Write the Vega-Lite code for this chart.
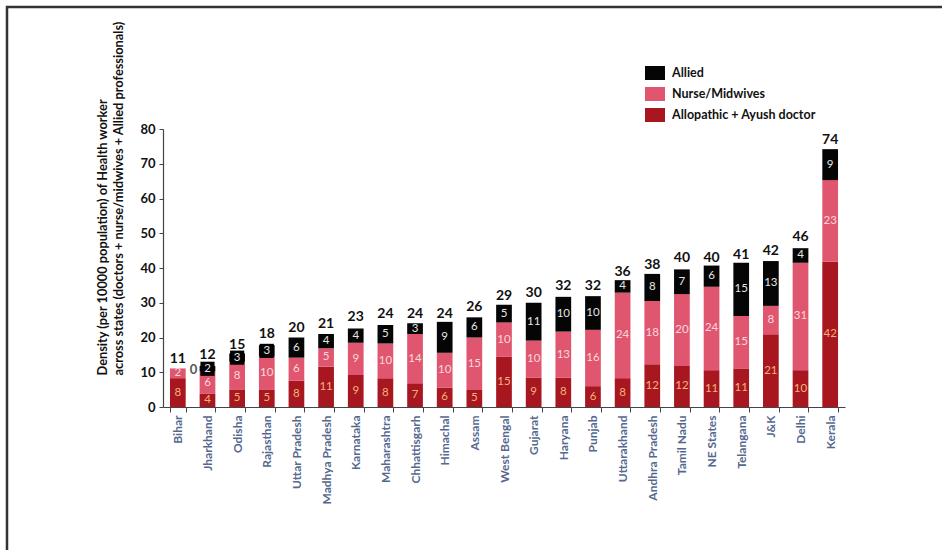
{
  "$schema": "https://vega.github.io/schema/vega-lite/v6.json",
  "width": 940,
  "height": 545,
  "autosize": "none",
  "padding": {"left": 7, "top": 7, "right": 0, "bottom": 0},
  "background": "white",
  "config": {
    "view": {"stroke": "#333333", "strokeWidth": 2.5},
    "font": "Lato"
  },
  "datasets": {
    "segs": [
      {"state": "Bihar", "type": "Allopathic + Ayush doctor", "ord": 1, "v": 8.3, "lab": "8"},
      {"state": "Bihar", "type": "Nurse/Midwives", "ord": 2, "v": 2.8, "lab": "2"},
      {"state": "Bihar", "type": "Allied", "ord": 3, "v": 0, "lab": ""},
      {"state": "Jharkhand", "type": "Allopathic + Ayush doctor", "ord": 1, "v": 3.9, "lab": "4"},
      {"state": "Jharkhand", "type": "Nurse/Midwives", "ord": 2, "v": 6.3, "lab": "6"},
      {"state": "Jharkhand", "type": "Allied", "ord": 3, "v": 1.6, "lab": "2"},
      {"state": "Odisha", "type": "Allopathic + Ayush doctor", "ord": 1, "v": 4.9, "lab": "5"},
      {"state": "Odisha", "type": "Nurse/Midwives", "ord": 2, "v": 8.1, "lab": "8"},
      {"state": "Odisha", "type": "Allied", "ord": 3, "v": 2.4, "lab": "3"},
      {"state": "Rajasthan", "type": "Allopathic + Ayush doctor", "ord": 1, "v": 4.9, "lab": "5"},
      {"state": "Rajasthan", "type": "Nurse/Midwives", "ord": 2, "v": 9.6, "lab": "10"},
      {"state": "Rajasthan", "type": "Allied", "ord": 3, "v": 3.3, "lab": "3"},
      {"state": "Uttar Pradesh", "type": "Allopathic + Ayush doctor", "ord": 1, "v": 7.6, "lab": "8"},
      {"state": "Uttar Pradesh", "type": "Nurse/Midwives", "ord": 2, "v": 6.6, "lab": "6"},
      {"state": "Uttar Pradesh", "type": "Allied", "ord": 3, "v": 5.8, "lab": "6"},
      {"state": "Madhya Pradesh", "type": "Allopathic + Ayush doctor", "ord": 1, "v": 11.6, "lab": "11"},
      {"state": "Madhya Pradesh", "type": "Nurse/Midwives", "ord": 2, "v": 5.3, "lab": "5"},
      {"state": "Madhya Pradesh", "type": "Allied", "ord": 3, "v": 4.1, "lab": "4"},
      {"state": "Karnataka", "type": "Allopathic + Ayush doctor", "ord": 1, "v": 9.2, "lab": "9"},
      {"state": "Karnataka", "type": "Nurse/Midwives", "ord": 2, "v": 9.3, "lab": "9"},
      {"state": "Karnataka", "type": "Allied", "ord": 3, "v": 4.1, "lab": "4"},
      {"state": "Maharashtra", "type": "Allopathic + Ayush doctor", "ord": 1, "v": 8.3, "lab": "8"},
      {"state": "Maharashtra", "type": "Nurse/Midwives", "ord": 2, "v": 10, "lab": "10"},
      {"state": "Maharashtra", "type": "Allied", "ord": 3, "v": 5.3, "lab": "5"},
      {"state": "Chhattisgarh", "type": "Allopathic + Ayush doctor", "ord": 1, "v": 6.8, "lab": "7"},
      {"state": "Chhattisgarh", "type": "Nurse/Midwives", "ord": 2, "v": 14.2, "lab": "14"},
      {"state": "Chhattisgarh", "type": "Allied", "ord": 3, "v": 3.1, "lab": "3"},
      {"state": "Himachal", "type": "Allopathic + Ayush doctor", "ord": 1, "v": 5.6, "lab": "6"},
      {"state": "Himachal", "type": "Nurse/Midwives", "ord": 2, "v": 10, "lab": "10"},
      {"state": "Himachal", "type": "Allied", "ord": 3, "v": 8.9, "lab": "9"},
      {"state": "Assam", "type": "Allopathic + Ayush doctor", "ord": 1, "v": 4.9, "lab": "5"},
      {"state": "Assam", "type": "Nurse/Midwives", "ord": 2, "v": 15.1, "lab": "15"},
      {"state": "Assam", "type": "Allied", "ord": 3, "v": 5.8, "lab": "6"},
      {"state": "West Bengal", "type": "Allopathic + Ayush doctor", "ord": 1, "v": 14.5, "lab": "15"},
      {"state": "West Bengal", "type": "Nurse/Midwives", "ord": 2, "v": 9.8, "lab": "10"},
      {"state": "West Bengal", "type": "Allied", "ord": 3, "v": 5.1, "lab": "5"},
      {"state": "Gujarat", "type": "Allopathic + Ayush doctor", "ord": 1, "v": 8.4, "lab": "9"},
      {"state": "Gujarat", "type": "Nurse/Midwives", "ord": 2, "v": 10.7, "lab": "10"},
      {"state": "Gujarat", "type": "Allied", "ord": 3, "v": 10.9, "lab": "11"},
      {"state": "Haryana", "type": "Allopathic + Ayush doctor", "ord": 1, "v": 8.4, "lab": "8"},
      {"state": "Haryana", "type": "Nurse/Midwives", "ord": 2, "v": 13.3, "lab": "13"},
      {"state": "Haryana", "type": "Allied", "ord": 3, "v": 10, "lab": "10"},
      {"state": "Punjab", "type": "Allopathic + Ayush doctor", "ord": 1, "v": 6, "lab": "6"},
      {"state": "Punjab", "type": "Nurse/Midwives", "ord": 2, "v": 16.2, "lab": "16"},
      {"state": "Punjab", "type": "Allied", "ord": 3, "v": 9.7, "lab": "10"},
      {"state": "Uttarakhand", "type": "Allopathic + Ayush doctor", "ord": 1, "v": 8.3, "lab": "8"},
      {"state": "Uttarakhand", "type": "Nurse/Midwives", "ord": 2, "v": 24.6, "lab": "24"},
      {"state": "Uttarakhand", "type": "Allied", "ord": 3, "v": 3.6, "lab": "4"},
      {"state": "Andhra Pradesh", "type": "Allopathic + Ayush doctor", "ord": 1, "v": 12.3, "lab": "12"},
      {"state": "Andhra Pradesh", "type": "Nurse/Midwives", "ord": 2, "v": 18.2, "lab": "18"},
      {"state": "Andhra Pradesh", "type": "Allied", "ord": 3, "v": 7.8, "lab": "8"},
      {"state": "Tamil Nadu", "type": "Allopathic + Ayush doctor", "ord": 1, "v": 11.8, "lab": "12"},
      {"state": "Tamil Nadu", "type": "Nurse/Midwives", "ord": 2, "v": 20.7, "lab": "20"},
      {"state": "Tamil Nadu", "type": "Allied", "ord": 3, "v": 7.1, "lab": "7"},
      {"state": "NE States", "type": "Allopathic + Ayush doctor", "ord": 1, "v": 10.6, "lab": "11"},
      {"state": "NE States", "type": "Nurse/Midwives", "ord": 2, "v": 24, "lab": "24"},
      {"state": "NE States", "type": "Allied", "ord": 3, "v": 6.1, "lab": "6"},
      {"state": "Telangana", "type": "Allopathic + Ayush doctor", "ord": 1, "v": 11.1, "lab": "11"},
      {"state": "Telangana", "type": "Nurse/Midwives", "ord": 2, "v": 15.1, "lab": "15"},
      {"state": "Telangana", "type": "Allied", "ord": 3, "v": 15.3, "lab": "15"},
      {"state": "J&K", "type": "Allopathic + Ayush doctor", "ord": 1, "v": 20.9, "lab": "21"},
      {"state": "J&K", "type": "Nurse/Midwives", "ord": 2, "v": 8.2, "lab": "8"},
      {"state": "J&K", "type": "Allied", "ord": 3, "v": 12.9, "lab": "13"},
      {"state": "Delhi", "type": "Allopathic + Ayush doctor", "ord": 1, "v": 10.6, "lab": "10"},
      {"state": "Delhi", "type": "Nurse/Midwives", "ord": 2, "v": 30.9, "lab": "31"},
      {"state": "Delhi", "type": "Allied", "ord": 3, "v": 4.2, "lab": "4"},
      {"state": "Kerala", "type": "Allopathic + Ayush doctor", "ord": 1, "v": 41.8, "lab": "42"},
      {"state": "Kerala", "type": "Nurse/Midwives", "ord": 2, "v": 23.5, "lab": "23"},
      {"state": "Kerala", "type": "Allied", "ord": 3, "v": 8.9, "lab": "9"}
    ],
    "totals": [
      {"state": "Bihar", "total": 11},
      {"state": "Jharkhand", "total": 12},
      {"state": "Odisha", "total": 15},
      {"state": "Rajasthan", "total": 18},
      {"state": "Uttar Pradesh", "total": 20},
      {"state": "Madhya Pradesh", "total": 21},
      {"state": "Karnataka", "total": 23},
      {"state": "Maharashtra", "total": 24},
      {"state": "Chhattisgarh", "total": 24},
      {"state": "Himachal", "total": 24},
      {"state": "Assam", "total": 26},
      {"state": "West Bengal", "total": 29},
      {"state": "Gujarat", "total": 30},
      {"state": "Haryana", "total": 32},
      {"state": "Punjab", "total": 32},
      {"state": "Uttarakhand", "total": 36},
      {"state": "Andhra Pradesh", "total": 38},
      {"state": "Tamil Nadu", "total": 40},
      {"state": "NE States", "total": 40},
      {"state": "Telangana", "total": 41},
      {"state": "J&K", "total": 42},
      {"state": "Delhi", "total": 46},
      {"state": "Kerala", "total": 74}
    ],
    "note": [
      {"state": "Jharkhand", "y": 10.7, "t": "0"}
    ]
  },
  "encoding": {
    "x": {
      "field": "state",
      "type": "nominal",
      "sort": null,
      "scale": {
        "domain": ["Bihar", "Jharkhand", "Odisha", "Rajasthan", "Uttar Pradesh", "Madhya Pradesh", "Karnataka", "Maharashtra", "Chhattisgarh", "Himachal", "Assam", "West Bengal", "Gujarat", "Haryana", "Punjab", "Uttarakhand", "Andhra Pradesh", "Tamil Nadu", "NE States", "Telangana", "J&K", "Delhi", "Kerala"],
        "range": [156, 838],
        "paddingInner": 0.47,
        "paddingOuter": 0.235
      },
      "axis": {
        "title": null,
        "offset": -145,
        "labelAngle": -90,
        "labelAlign": "right",
        "labelBaseline": "middle",
        "labelFont": "Lato",
        "labelFontWeight": "bold",
        "labelFontSize": 12,
        "labelColor": "#55698f",
        "labelPadding": 3,
        "tickBand": "extent",
        "tickSize": 5,
        "tickColor": "#444444",
        "domainColor": "#444444",
        "domainWidth": 1.2
      }
    }
  },
  "layer": [
    {
      "data": {"name": "segs"},
      "mark": {"type": "bar"},
      "encoding": {
        "y": {
          "field": "v",
          "type": "quantitative",
          "stack": "zero",
          "scale": {"domain": [0, 80], "range": [400, 122], "nice": false},
          "axis": {
            "offset": -156,
            "values": [0, 10, 20, 30, 40, 50, 60, 70, 80],
            "grid": false,
            "tickSize": 4,
            "tickColor": "#444444",
            "domainColor": "#444444",
            "domainWidth": 1.2,
            "labelFont": "Lato",
            "labelFontWeight": "bold",
            "labelFontSize": 13,
            "labelColor": "#111111",
            "labelPadding": 4,
            "title": ["Density (per 10000 population) of Health worker", "across states (doctors + nurse/midwives + Allied professionals)"],
            "titleFont": "Lato",
            "titleFontWeight": "bold",
            "titleFontSize": 12.8,
            "titleColor": "#111111",
            "titleX": -54,
            "titleY": 368,
            "titleBaseline": "bottom",
            "titleAlign": "left",
            "titleAngle": -90,
            "titleLineHeight": 16
          }
        },
        "color": {
          "field": "type",
          "type": "nominal",
          "scale": {
            "domain": ["Allied", "Nurse/Midwives", "Allopathic + Ayush doctor"],
            "range": ["#050505", "#e0566f", "#a8171f"]
          },
          "legend": {
            "orient": "none",
            "legendX": 638,
            "legendY": 56,
            "title": null,
            "padding": 0,
            "symbolType": "M-1,-0.7H1V0.7H-1Z",
            "symbolSize": 400,
            "symbolStrokeWidth": 0,
            "labelFont": "Lato",
            "labelFontWeight": "bold",
            "labelFontSize": 12.5,
            "labelColor": "#111111",
            "labelOffset": 7,
            "rowPadding": 4
          }
        },
        "order": {"field": "ord", "type": "quantitative"}
      }
    },
    {
      "data": {"name": "segs"},
      "mark": {"type": "square", "filled": true, "color": "#000000", "opacity": 1},
      "encoding": {
        "y": {"field": "v", "type": "quantitative", "stack": "zero", "bandPosition": 0.5},
        "order": {"field": "ord", "type": "quantitative"},
        "size": {
          "condition": {"test": "(datum.state === 'Jharkhand' || datum.state === 'Odisha' || datum.state === 'Rajasthan') && datum.type === 'Allied'", "value": 200},
          "value": 0
        }
      }
    },
    {
      "data": {"name": "segs"},
      "mark": {"type": "text", "font": "Lato", "fontSize": 11.5, "baseline": "middle", "align": "center"},
      "encoding": {
        "y": {"field": "v", "type": "quantitative", "stack": "zero", "bandPosition": 0.5},
        "order": {"field": "ord", "type": "quantitative"},
        "text": {"field": "lab"},
        "color": {
          "condition": [
            {"test": "datum.type === 'Allied'", "value": "#e6e6e6"},
            {"test": "datum.type === 'Nurse/Midwives'", "value": "#fbd6de"}
          ],
          "value": "#f4b27c"
        }
      }
    },
    {
      "data": {"name": "totals"},
      "mark": {"type": "text", "font": "Lato", "fontWeight": "bold", "fontSize": 14, "baseline": "bottom", "dy": -3, "color": "#111111"},
      "encoding": {
        "y": {"field": "total", "type": "quantitative"},
        "text": {"field": "total"}
      }
    },
    {
      "data": {"name": "note"},
      "mark": {"type": "text", "font": "Lato", "fontWeight": "bold", "fontSize": 13, "baseline": "middle", "dx": -14, "color": "#555555"},
      "encoding": {
        "y": {"field": "y", "type": "quantitative"},
        "text": {"field": "t"}
      }
    }
  ]
}
